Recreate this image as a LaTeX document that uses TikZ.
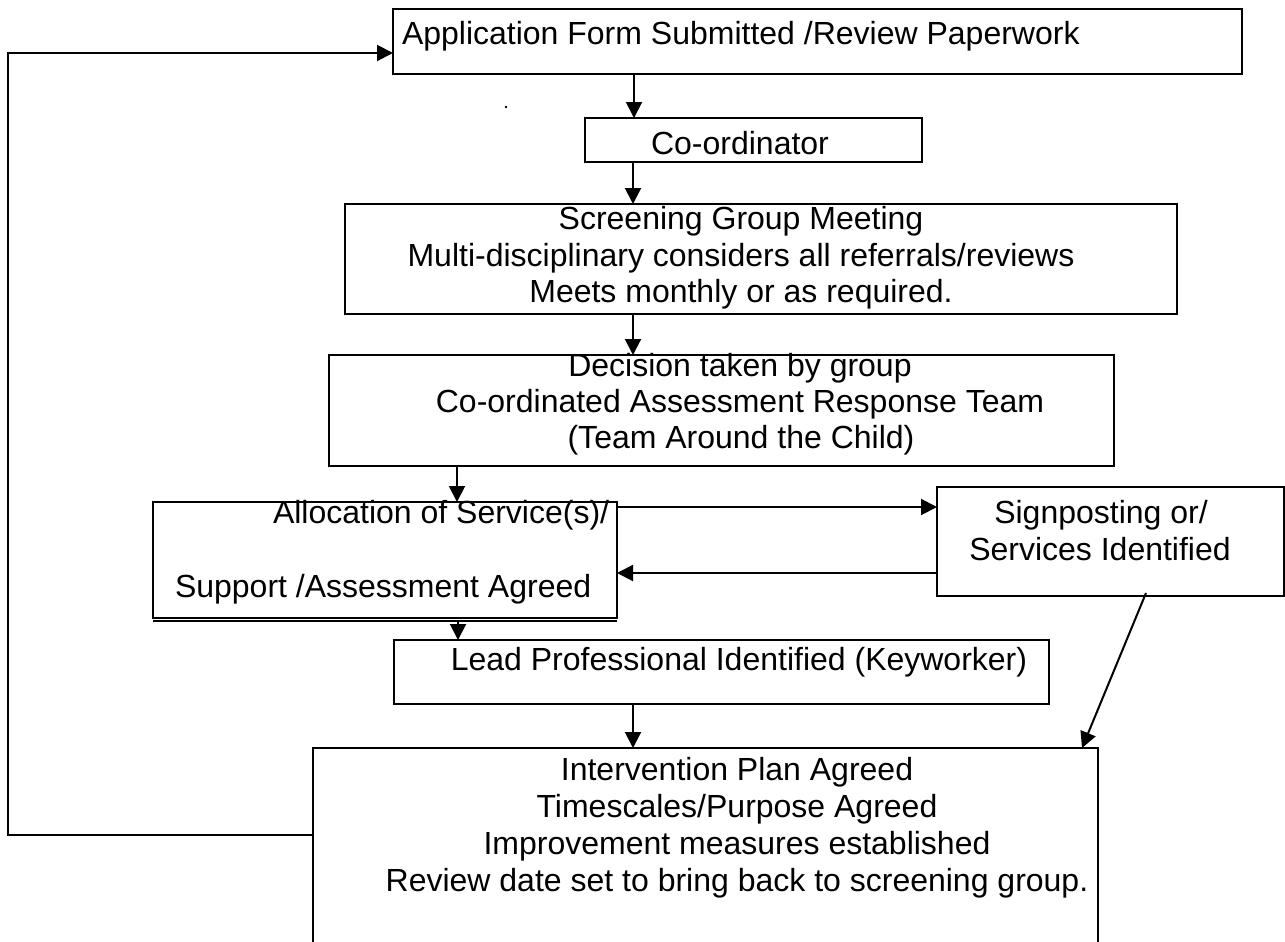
\documentclass[tikz,border=0pt]{standalone}
\usepackage{fontspec}
\setmainfont{Liberation Sans}
\usetikzlibrary{arrows.meta}
\begin{document}
\begin{tikzpicture}[x=1pt,y=-1pt,
  box/.style={draw, line width=1.8pt, inner sep=0pt, outer sep=0pt, anchor=north west},
  txt/.style={inner sep=0pt, outer sep=0pt, font=\fontsize{32}{37}\selectfont},
  ctxt/.style={txt, anchor=base},
  ltxt/.style={txt, anchor=base west},
  arr/.style={line width=2pt, -{Triangle[length=16pt,width=16pt]}}]
\useasboundingbox (0,0) rectangle (1285,942);
\fill[white] (0,0) rectangle (1285,942);

% boxes
\node[box, minimum width=849pt, minimum height=65pt] (app) at (393,9) {};
\node[box, minimum width=337pt, minimum height=44pt] (coord) at (585,118) {};
\node[box, minimum width=832pt, minimum height=110pt] (screen) at (345,204) {};
\node[box, minimum width=785pt, minimum height=111pt] (decis) at (329,355) {};
\node[box, minimum width=464pt, minimum height=116pt] (alloc) at (153,502) {};
\node[box, minimum width=347pt, minimum height=109pt] (sign) at (937,487) {};
\node[box, minimum width=655pt, minimum height=64pt] (lead) at (394,640) {};
\node[box, minimum width=785pt, minimum height=215pt] (interv) at (313,748) {};

% texts
\node[ltxt] (tapp) at (402,45) {Application Form Submitted /Review Paperwork};
\node[ctxt] (tcoord) at (740,154) {Co-ordinator};
\node[ctxt] (tscr1) at (741,229) {Screening Group Meeting};
\node[ctxt] (tscr2) at (741,266) {Multi-disciplinary considers all referrals/reviews};
\node[ctxt] (tscr3) at (741,302) {Meets monthly or as required.};
\node[ctxt] (tdec1) at (740,376) {Decision taken by group};
\node[ctxt] (tdec2) at (740,412) {Co-ordinated Assessment Response Team};
\node[ctxt] (tdec3) at (741,448) {(Team Around the Child)};
\node[ltxt] (tall1) at (273,523) {Allocation of Service(s)/};
\node[ltxt] (tall2) at (175,597) {Support /Assessment Agreed};
\node[ctxt] (tsig1) at (1101,523) {Signposting or/};
\node[ctxt] (tsig2) at (1100,560) {Services Identified};
\node[ctxt] (tlead) at (739,670) {Lead Professional Identified (Keyworker)};
\node[ctxt] (tint1) at (737,780) {Intervention Plan Agreed};
\node[ctxt] (tint2) at (737,817) {Timescales/Purpose Agreed};
\node[ctxt] (tint3) at (737,854) {Improvement measures established};
\node[ctxt] (tint4) at (737,891) {Review date set to bring back to screening group.};

% extra bottom rule of allocation box
\draw[line width=1.6pt] ([yshift=-3pt]alloc.south west) -- ([yshift=-3pt]alloc.south east);

% small dot
\fill (506,107) circle (1.4pt);

% connectors
\draw[arr] (app.south -| 634,0) -- (coord.north -| 634,0);
\draw[arr] (coord.south -| 633,0) -- (screen.north -| 633,0);
\draw[arr] (screen.south -| 633,0) -- (decis.north -| 633,0);
\draw[arr] (decis.south -| 457,0) -- (alloc.north -| 457,0);
\draw[arr] (alloc.east |- 0,507) -- (sign.west |- 0,507);
\draw[arr] (sign.west |- 0,573) -- (alloc.east |- 0,573);
\draw[arr] ([yshift=-3pt]alloc.south -| 458,0) -- (lead.north -| 458,0);
\draw[arr] (lead.south -| 633,0) -- (interv.north -| 633,0);
\coordinate (sigout) at (1146,593);
\draw[arr] (sigout) -- (interv.north -| 1082,0);
\draw[arr] (interv.west |- 0,835) -- (8,835) -- (8,53) -- (app.west |- 0,53);
\end{tikzpicture}
\end{document}
